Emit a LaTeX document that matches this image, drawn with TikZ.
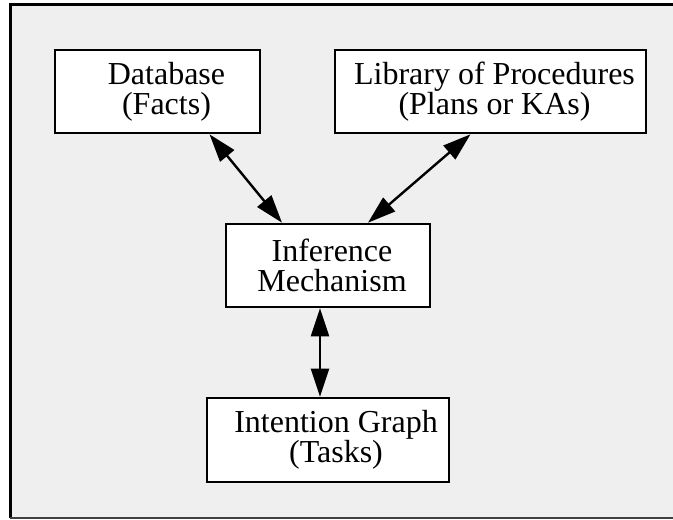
\documentclass[tikz,border=0pt]{standalone}
\usepackage{fontspec}
\setmainfont{Liberation Serif}
\usetikzlibrary{positioning, arrows.meta}
\definecolor{panel}{HTML}{EFEFEF}

\begin{document}
\begin{tikzpicture}[
    x = 0.5pt, y = -0.5pt,
    > = {Triangle[length=14pt, width=9pt]},
    on grid,
    box/.style = {draw, line width=1.3pt, fill=white, align=center, inner sep=0pt,
                  minimum height=41.5pt, font=\fontsize{16}{15}\selectfont},
    link/.style = {<->, line width=1.2pt}
  ]

  % Background panel
  \useasboundingbox (0,0) rectangle (673,519);
  \fill[panel] (10,5) rectangle (673,518);
  \draw[line width=1.5pt] (10,518) -- (10,5) -- (673,5);
  \draw[line width=0.75pt, black!75] (10,518) -- (673,518);

  % Boxes
  \node[box, minimum width=102pt] (inf) at (328,265.5) {\hspace*{4pt}Inference\\\hspace*{4pt}Mechanism};
  \node[box, minimum width=102.5pt] (db) [above left=87pt and 85.25pt of inf] {\hspace*{9pt}Database\\\hspace*{9pt}(Facts)};
  \node[box, minimum width=155.5pt] (lib) [above right=87pt and 81.25pt of inf] {\hspace*{4pt}Library of Procedures\\\hspace*{4pt}(Plans or KAs)};
  \node[box, minimum width=121pt, minimum height=42pt] (int) [below=87.25pt of inf] {\hspace*{8pt}Intention Graph\\\hspace*{8pt}(Tasks)};

  % Links
  \draw[link] ([xshift=26pt]db.south) -- ([xshift=-23pt]inf.north);
  \draw[link] ([xshift=-10pt]lib.south) -- ([xshift=20pt]inf.north);
  \draw[link] ([xshift=-4pt]inf.south) -- ([xshift=-4pt]int.north);

\end{tikzpicture}
\end{document}
